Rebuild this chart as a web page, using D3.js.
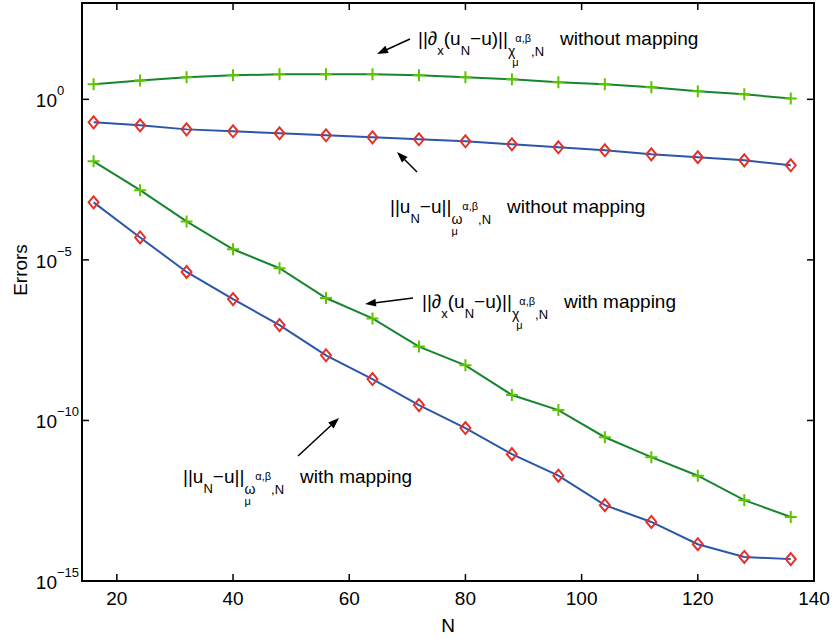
<!DOCTYPE html>
<html>
<head>
<meta charset="utf-8">
<style>
body { margin: 0; background: #fff; }
svg { display: block; }
text { font-family: "Liberation Sans", Arial, Helvetica, sans-serif; fill: #000; }
</style>
</head>
<body>
<svg id="chart" width="834" height="638"></svg>
<script src="https://cdn.jsdelivr.net/npm/d3@7/dist/d3.min.js"></script>
<script>
// N values (polynomial degree)
var degrees = [16, 24, 32, 40, 48, 56, 64, 72, 80, 88, 96, 104, 112, 120, 128, 136];

// ||d_x(u_N - u)|| without mapping
var derivNoMap = [2.93, 3.89, 4.84, 5.58, 6.0, 6.0, 6.0, 5.58, 4.84, 4.19, 3.38, 2.93, 2.36, 1.77, 1.43, 1.07];
// ||u_N - u|| without mapping
var errNoMap = [0.192, 0.155, 0.116, 0.101, 0.0875, 0.0759, 0.0656, 0.0569, 0.0493, 0.0398, 0.0321, 0.0259, 0.0194, 0.0157, 0.0126, 0.00883];
// ||d_x(u_N - u)|| with mapping
var derivMap = [1.17e-2, 1.48e-3, 1.58e-4, 2.14e-5, 5.5e-6, 6.5e-7, 1.5e-7, 2.0e-8, 5.2e-9, 6.2e-10, 2.1e-10, 3.0e-11, 7.2e-12, 1.9e-12, 3.3e-13, 9.8e-14];
// ||u_N - u|| with mapping
var errMap = [6.2e-4, 5.0e-5, 4.2e-6, 6.0e-7, 9.3e-8, 1.07e-8, 1.95e-9, 3.0e-10, 5.8e-11, 8.9e-12, 1.9e-12, 2.3e-13, 6.9e-14, 1.4e-14, 5.6e-15, 4.8e-15];

var xTicks = [20, 40, 60, 80, 100, 120, 140];
var yTickExps = [0, -5, -10, -15];

var plotL = 82, plotR = 814, plotT = 3, plotB = 581;
var svg = d3.select("#chart");

var x = d3.scaleLinear().domain([14, 140]).range([plotL, plotR]);
var y = d3.scaleLog().domain([1e-15, 1e3]).range([plotB, plotT]);

var greenLine = "#17862e", blueLine = "#2a57a8";
var greenMark = "#5fc400", redMark = "#e3302b";

// series lines
var line = d3.line().x(function(d, i){ return x(degrees[i]); }).y(function(d){ return y(d); });

var series = [
	{ data: derivNoMap, color: greenLine, mark: "plus" },
	{ data: errNoMap, color: blueLine, mark: "diamond" },
	{ data: derivMap, color: greenLine, mark: "plus" },
	{ data: errMap, color: blueLine, mark: "diamond" }
];

series.forEach(function(s){
	svg.append("path").datum(s.data)
		.attr("d", line)
		.attr("fill", "none")
		.attr("stroke", s.color)
		.attr("stroke-width", 2);
});

series.forEach(function(s){
	var g = svg.append("g");
	s.data.forEach(function(v, i){
		var cx = x(degrees[i]), cy = y(v);
		if (s.mark == "plus") {
			g.append("path")
				.attr("d", "M" + (cx - 6) + "," + cy + "H" + (cx + 6) + "M" + cx + "," + (cy - 6) + "V" + (cy + 6))
				.attr("stroke", greenMark).attr("stroke-width", 2).attr("fill", "none");
		} else {
			g.append("path")
				.attr("d", "M" + cx + "," + (cy - 6) + "L" + (cx + 5) + "," + cy + "L" + cx + "," + (cy + 6) + "L" + (cx - 5) + "," + cy + "Z")
				.attr("stroke", redMark).attr("stroke-width", 2).attr("fill", "none");
		}
	});
});

// frame and ticks
svg.append("rect")
	.attr("x", plotL).attr("y", plotT)
	.attr("width", plotR - plotL).attr("height", plotB - plotT)
	.attr("fill", "none").attr("stroke", "#000").attr("stroke-width", 2);

var ticks = svg.append("g").attr("stroke", "#000").attr("stroke-width", 1.5);
xTicks.forEach(function(t){
	ticks.append("line").attr("x1", x(t)).attr("x2", x(t)).attr("y1", plotB).attr("y2", plotB - 7);
	ticks.append("line").attr("x1", x(t)).attr("x2", x(t)).attr("y1", plotT).attr("y2", plotT + 7);
	svg.append("text").attr("x", x(t)).attr("y", plotB + 24)
		.attr("text-anchor", "middle").attr("font-size", 19).text(t);
});
yTickExps.forEach(function(e){
	var ty = y(Math.pow(10, e));
	ticks.append("line").attr("x1", plotL).attr("x2", plotL + 7).attr("y1", ty).attr("y2", ty);
	ticks.append("line").attr("x1", plotR).attr("x2", plotR - 7).attr("y1", ty).attr("y2", ty);
	// "10" right-aligned, exponent hanging to the right
	svg.append("text").attr("x", 57).attr("y", ty + 8).attr("font-size", 19)
		.attr("text-anchor", "end").text("10");
	svg.append("text").attr("x", 57).attr("y", ty - 4).attr("font-size", 13)
		.text(e == 0 ? "0" : "\u2212" + (-e));
});

svg.append("text").attr("x", (plotL + plotR) / 2).attr("y", 632)
	.attr("text-anchor", "middle").attr("font-size", 19).text("N");
svg.append("text").attr("transform", "translate(27,270) rotate(-90)")
	.attr("text-anchor", "middle").attr("font-size", 19).text("Errors");

// math labels built piece by piece
function mathLabel(x0, y0, parts) {
	var cx = x0, start = x0, saved = x0;
	parts.forEach(function(p){
		var px = p.atSaved ? saved + (p.dx || 0) : (p.atStart ? start + (p.dx || 0) : cx + (p.dx || 0));
		var t = svg.append("text").attr("x", px).attr("y", y0 + (p.dy || 0))
			.attr("font-size", p.size || 19).text(p.s);
		var w = t.node().getComputedTextLength();
		if (p.save) { saved = px + w; start = px; }
		if (!p.noAdvance) cx = px + w;
	});
}

function derivParts(word) {
	return [
		{ s: "||\u2202" },
		{ s: "x", size: 13, dy: 10 },
		{ s: "(u" },
		{ s: "N", size: 13, dy: 10 },
		{ s: "\u2212u)||" },
		{ s: "\u03c7", size: 14, dy: 11, save: true },
		{ s: "\u03b1,\u03b2", size: 11, dy: -3 },
		{ s: "\u03bc", size: 11, dy: 21, atSaved: true, dx: -3, noAdvance: true },
		{ s: ",N", size: 13, dy: 11 },
		{ s: word, dx: 16 }
	];
}
function errParts(word) {
	return [
		{ s: "||u" },
		{ s: "N", size: 13, dy: 10 },
		{ s: "\u2212u||" },
		{ s: "\u03c9", size: 14, dy: 11, save: true },
		{ s: "\u03b1,\u03b2", size: 11, dy: -3 },
		{ s: "\u03bc", size: 11, dy: 22, atStart: true, dx: 0, noAdvance: true },
		{ s: ",N", size: 13, dy: 11 },
		{ s: word, dx: 16 }
	];
}

mathLabel(418, 45, derivParts("without mapping"));
mathLabel(390, 213, errParts("without mapping"));
mathLabel(422, 308, derivParts("with mapping"));
mathLabel(183, 483, errParts("with mapping"));

// arrows
function arrow(x1, y1, x2, y2) {
	var ang = Math.atan2(y2 - y1, x2 - x1), len = 11, wid = 4;
	var bx = x2 - len * Math.cos(ang), by = y2 - len * Math.sin(ang);
	svg.append("line").attr("x1", x1).attr("y1", y1).attr("x2", bx).attr("y2", by)
		.attr("stroke", "#000").attr("stroke-width", 1.5);
	var px = -Math.sin(ang) * wid, py = Math.cos(ang) * wid;
	svg.append("path")
		.attr("d", "M" + x2 + "," + y2 + "L" + (bx + px) + "," + (by + py) + "L" + (bx - px) + "," + (by - py) + "Z")
		.attr("fill", "#000");
}
arrow(410, 39, 377, 54);
arrow(417, 172, 397, 152);
arrow(413, 298, 365, 304);
arrow(298, 456, 339, 418);
</script>
</body>
</html>
